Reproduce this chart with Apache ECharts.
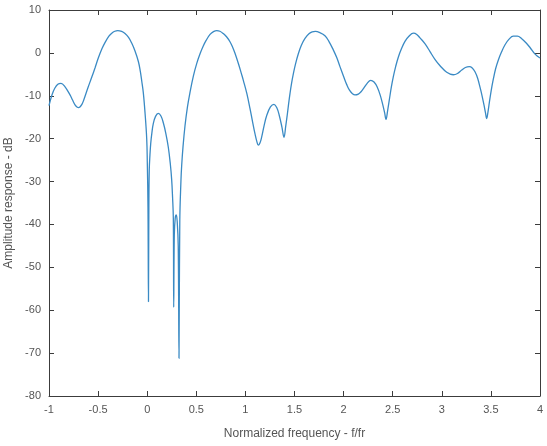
<!DOCTYPE html>
<html>
<head>
<meta charset="utf-8">
<script src="https://cdn.jsdelivr.net/npm/echarts@6/dist/echarts.min.js"></script>
<style>
  html, body { margin: 0; padding: 0; background: #fff; }
  #chart { width: 547px; height: 446px; }
</style>
</head>
<body>
<div id="chart"></div>
<script>
// normalized frequency f/fr
const freq = [
  -1.0, -0.97, -0.94, -0.91, -0.878, -0.84, -0.786, -0.76, -0.735, -0.715, -0.70, -0.685, -0.665,
  -0.648, -0.633, -0.60, -0.565, -0.53, -0.498, -0.46, -0.43, -0.39, -0.361, -0.33, -0.30, -0.26,
  -0.226, -0.19, -0.158, -0.125, -0.09, -0.07, -0.056, -0.04, -0.022, -0.005, 0.001, 0.008, 0.013,
  0.017, 0.021, 0.028, 0.036, 0.048, 0.062, 0.085, 0.113, 0.14, 0.164, 0.19, 0.215, 0.235, 0.249,
  0.258, 0.266, 0.270, 0.276, 0.285, 0.296, 0.306, 0.316, 0.324, 0.332, 0.344, 0.351, 0.365,
  0.385, 0.41, 0.436, 0.47, 0.504, 0.54, 0.571, 0.60, 0.64, 0.675, 0.708, 0.74, 0.775, 0.81,
  0.843, 0.87, 0.894, 0.93, 0.96, 0.979, 1.015, 1.047, 1.075, 1.098, 1.118, 1.131, 1.148, 1.166,
  1.19, 1.217, 1.255, 1.291, 1.32, 1.345, 1.372, 1.393, 1.41, 1.427, 1.44, 1.454, 1.47, 1.488,
  1.51, 1.539, 1.57, 1.607, 1.65, 1.68, 1.712, 1.76, 1.81, 1.85, 1.895, 1.93, 1.963, 2.0, 2.032,
  2.06, 2.09, 2.116, 2.15, 2.18, 2.2, 2.24, 2.276, 2.31, 2.343, 2.372, 2.398, 2.418, 2.432,
  2.448, 2.466, 2.486, 2.506, 2.53, 2.557, 2.59, 2.625, 2.665, 2.712, 2.745, 2.778, 2.83, 2.88,
  2.93, 2.982, 3.05, 3.117, 3.16, 3.203, 3.24, 3.28, 3.31, 3.338, 3.365, 3.389, 3.41, 3.43,
  3.445, 3.457, 3.47, 3.484, 3.503, 3.524, 3.548, 3.575, 3.61, 3.644, 3.685, 3.728, 3.77, 3.814,
  3.86, 3.9, 3.95, 4.0
];
// amplitude response, dB
const ampl = [
  -12.3, -9.8, -8.2, -7.3, -7.1, -7.8, -9.8, -11.0, -12.1, -12.6, -12.75, -12.6, -12.0,
  -11.1, -10.1, -7.9, -5.7, -3.4, -1.2, 1.0, 2.4, 3.9, 4.6, 5.05, 5.2, 5.0,
  4.5, 3.6, 2.3, 0.5, -2.0, -4.3, -6.5, -9.2, -14.0, -20.0, -25.5, -36.0, -58.0,
  -36.0, -27.3, -23.8, -21.1, -18.6, -16.5, -14.8, -14.1, -14.7, -16.3, -18.8, -22.0, -25.8, -29.5,
  -33.5, -38.5, -59.3, -42.5, -38.6, -37.8, -39.5, -45.0, -71.2, -39.0, -29.6, -26.3, -21.8,
  -17.0, -12.6, -9.2, -5.4, -2.5, -0.1, 1.6, 2.9, 4.3, 4.95, 5.2, 5.05, 4.5, 3.7,
  2.6, 1.3, -0.1, -2.6, -4.9, -6.4, -9.5, -13.0, -16.3, -18.9, -20.8, -21.5, -21.0, -19.6,
  -17.0, -14.6, -12.6, -12.0, -12.8, -14.6, -17.3, -19.7, -17.2, -14.3, -11.9, -9.5, -7.1, -4.9,
  -2.6, -0.2, 1.8, 3.4, 4.5, 4.9, 5.0, 4.7, 4.0, 2.7, 0.7, -1.1, -3.2, -5.5, -7.4,
  -8.7, -9.5, -9.8, -9.6, -9.0, -8.4, -7.1, -6.4, -6.8, -8.0, -9.8, -12.0, -14.0, -15.5,
  -13.5, -10.9, -8.0, -5.6, -3.2, -1.0, 1.0, 2.7, 3.9, 4.6, 4.3, 3.5, 2.1, 0.3,
  -1.5, -3.0, -4.5, -5.1, -4.8, -4.0, -3.4, -3.2, -3.5, -4.4, -5.9, -8.0, -10.0, -12.2,
  -14.0, -15.3, -13.8, -11.6, -8.8, -6.2, -3.7, -1.7, 0.3, 1.9, 3.2, 3.9, 3.9, 3.3,
  2.3, 1.2, -0.3, -1.2
];
const xTicks = { min: -1, max: 4, interval: 0.5 };
const yTicks = { min: -80, max: 10, interval: 10 };

const chart = echarts.init(document.getElementById('chart'));

const lineColor = '#3c3c3c';
const labelColor = '#555';
const fontFamily = 'Liberation Sans, Arial, sans-serif';

const baseAxis = {
  type: 'value',
  axisLine: { show: true, onZero: false, lineStyle: { color: lineColor, width: 1 } },
  axisTick: { show: true, inside: true, length: 5, lineStyle: { color: lineColor } },
  splitLine: { show: false }
};

chart.setOption({
  animation: false,
  grid: { left: 49, right: 7, top: 10, bottom: 50, outerBoundsMode: 'none', containLabel: false },
  xAxis: [
    Object.assign({}, baseAxis, xTicks, {
      position: 'bottom',
      name: 'Normalized frequency - f/fr',
      nameLocation: 'middle',
      nameGap: 32,
      nameTextStyle: { color: labelColor, fontSize: 12, fontFamily: fontFamily },
      axisLabel: { color: labelColor, fontSize: 11, fontFamily: fontFamily, margin: 8 }
    }),
    Object.assign({}, baseAxis, xTicks, {
      position: 'top',
      axisLabel: { show: false }
    })
  ],
  yAxis: [
    Object.assign({}, baseAxis, yTicks, {
      position: 'left',
      name: 'Amplitude response - dB',
      nameLocation: 'middle',
      nameGap: 34,
      nameTextStyle: { color: labelColor, fontSize: 12, fontFamily: fontFamily },
      axisLabel: { color: labelColor, fontSize: 11, fontFamily: fontFamily, margin: 8 }
    }),
    Object.assign({}, baseAxis, yTicks, {
      position: 'right',
      axisLabel: { show: false }
    })
  ],
  series: [{
    type: 'line',
    data: freq.map((f, i) => [f, ampl[i]]),
    showSymbol: false,
    smooth: 0.4,
    lineStyle: { color: '#3a8ac4', width: 1.3 }
  }]
});
</script>
</body>
</html>
